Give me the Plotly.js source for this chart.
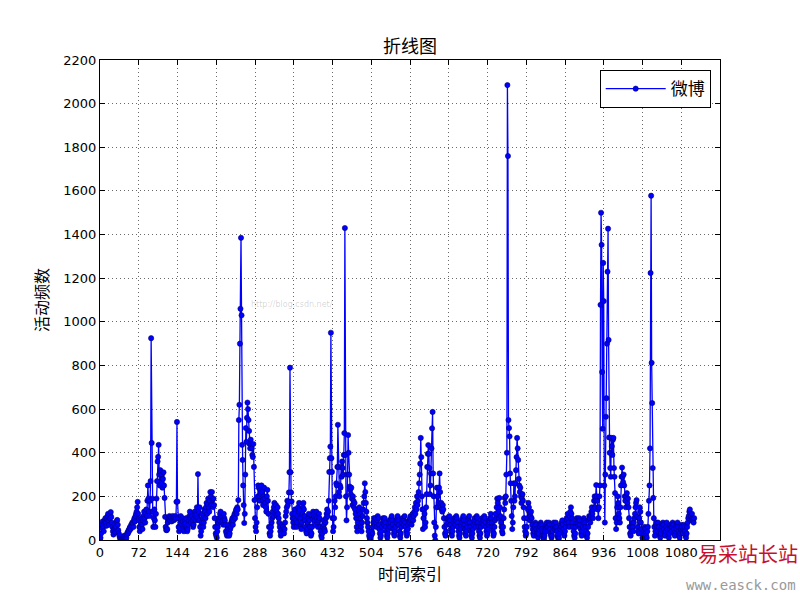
<!DOCTYPE html>
<html>
<head>
<meta charset="utf-8">
<script src="https://cdn.plot.ly/plotly-3.0.1.min.js"></script>
<style>html,body{margin:0;padding:0;background:#fff;}#chart{width:800px;height:600px;}</style>
</head>
<body>
<div id="chart"></div>
<script>
// 微博 activity frequency per time index
const activity = [
0, 10, 30, 55, 70, 85, 60, 40, 75, 90,
100, 80, 65, 95, 110, 120, 90, 70, 100, 115,
128, 105, 80, 60, 40, 25, 50, 70, 55, 35,
60, 85, 92, 70, 45, 30, 20, 10, 5, 0,
0, 5, 3, 0, 10, 20, 15, 5, 0, 10,
25, 35, 30, 45, 40, 55, 60, 50, 70, 65,
80, 75, 60, 90, 100, 85, 110, 120, 130, 150,
175, 120, 90, 60, 40, 55, 80, 100, 70, 50,
90, 110, 130, 100, 80, 120, 140, 110, 180, 250,
190, 130, 110, 180, 270, 925, 445, 190, 130, 60,
100, 140, 90, 60, 120, 190, 270, 360, 381, 436,
300, 250, 320, 310, 260, 300, 240, 280, 310, 250,
193, 106, 60, 46, 45, 50, 80, 100, 95, 110,
90, 105, 100, 85, 95, 110, 100, 90, 105, 95,
110, 100, 175, 541, 176, 100, 60, 40, 55, 80,
110, 90, 70, 100, 85, 60, 40, 70, 90, 75,
100, 60, 40, 50, 70, 90, 110, 130, 100, 80,
120, 110, 90, 60, 70, 100, 130, 110, 90, 120,
150, 100, 302, 130, 90, 150, 60, 20, 40, 80,
120, 100, 60, 80, 140, 130, 100, 150, 170, 120,
160, 190, 150, 130, 180, 220, 200, 160, 220, 185,
150, 190, 160, 100, 60, 30, 20, 10, 40, 60,
80, 100, 90, 120, 130, 100, 80, 110, 90, 70,
120, 100, 90, 70, 40, 30, 20, 50, 70, 40,
20, 30, 50, 60, 80, 90, 100, 70, 90, 110,
120, 100, 130, 140, 120, 150, 140, 183, 550, 620,
900, 1060, 1385, 1030, 436, 367, 250, 160, 78, 120,
300, 513, 450, 560, 630, 600, 550, 500, 440, 420,
460, 440, 420, 390, 380, 440, 335, 183, 100, 60,
40, 80, 150, 200, 250, 240, 200, 180, 230, 210,
250, 220, 180, 160, 200, 240, 190, 170, 150, 130,
200, 230, 180, 120, 60, 30, 20, 40, 60, 80,
100, 130, 110, 150, 170, 140, 120, 160, 130, 110,
150, 120, 100, 80, 60, 40, 20, 30, 50, 70,
60, 40, 30, 50, 80, 110, 130, 150, 180, 160,
177, 218, 311, 790, 311, 218, 177, 120, 100, 80,
60, 100, 140, 120, 90, 60, 80, 110, 150, 130,
170, 140, 100, 70, 50, 80, 120, 150, 170, 140,
110, 90, 60, 40, 30, 50, 80, 100, 120, 90,
60, 40, 20, 30, 60, 100, 130, 110, 120, 90,
70, 110, 130, 100, 80, 60, 90, 120, 100, 60,
40, 20, 10, 30, 60, 90, 70, 50, 40, 80,
100, 120, 140, 110, 130, 180, 312, 375, 428, 950,
375, 312, 100, 40, 60, 100, 180, 150, 200, 260,
250, 335, 528, 335, 220, 200, 250, 240, 335, 290,
360, 330, 300, 390, 490, 1430, 390, 200, 90, 150,
300, 481, 400, 300, 245, 230, 210, 240, 190, 160,
200, 180, 150, 170, 140, 120, 100, 60, 40, 80,
100, 130, 150, 120, 100, 60, 40, 80, 110, 140,
170, 200, 260, 220, 170, 130, 100, 80, 60, 40,
20, 10, 0, 5, 20, 40, 30, 60, 80, 100,
90, 70, 100, 80, 60, 90, 110, 100, 70, 50,
30, 10, 20, 40, 60, 80, 100, 90, 70, 100,
80, 60, 40, 20, 10, 30, 50, 70, 90, 60,
80, 100, 110, 90, 70, 50, 30, 20, 40, 60,
90, 80, 100, 110, 90, 70, 40, 20, 10, 30,
60, 80, 100, 90, 70, 90, 110, 80, 60, 40,
20, 30, 50, 70, 90, 80, 100, 110, 90, 70,
100, 120, 90, 110, 130, 150, 120, 170, 140, 200,
160, 180, 220, 260, 300, 350, 468, 380, 200, 140,
50, 100, 140, 120, 60, 80, 150, 210, 335, 395,
435, 395, 330, 210, 250, 305, 420, 512, 587, 305,
200, 80, 20, 0, 60, 150, 240, 200, 150, 170,
240, 305, 220, 150, 170, 140, 130, 160, 140, 100,
60, 30, 20, 40, 70, 100, 90, 80, 100, 110,
90, 70, 50, 30, 20, 40, 60, 80, 100, 90,
70, 90, 110, 100, 80, 60, 40, 20, 10, 30,
50, 70, 90, 80, 100, 110, 90, 70, 50, 30,
20, 40, 60, 80, 100, 90, 110, 80, 60, 40,
20, 10, 30, 50, 70, 90, 100, 80, 60, 90,
110, 100, 80, 60, 40, 20, 10, 30, 60, 80,
100, 90, 70, 90, 110, 100, 80, 60, 40, 20,
30, 50, 70, 90, 80, 100, 120, 100, 80, 60,
40, 20, 30, 60, 90, 120, 100, 150, 190, 170,
130, 100, 193, 150, 110, 80, 60, 40, 30, 60,
100, 140, 193, 170, 200, 300, 400, 2085, 1760, 550,
513, 475, 305, 260, 180, 110, 50, 80, 150, 260,
180, 200, 260, 320, 380, 468, 420, 367, 280, 250,
220, 240, 200, 170, 190, 210, 180, 150, 100, 60,
40, 20, 30, 60, 100, 140, 170, 150, 120, 90,
110, 130, 100, 70, 50, 30, 20, 40, 60, 80,
70, 50, 30, 20, 10, 30, 50, 70, 60, 80,
70, 50, 40, 20, 10, 5, 20, 40, 60, 70,
80, 60, 40, 60, 80, 70, 50, 30, 20, 10,
20, 40, 60, 80, 70, 50, 60, 80, 60, 40,
20, 10, 0, 10, 30, 50, 70, 60, 80, 90,
70, 50, 30, 20, 40, 60, 80, 100, 90, 120,
100, 80, 60, 110, 130, 150, 120, 100, 80, 60,
40, 20, 10, 30, 60, 80, 100, 90, 70, 80,
100, 90, 70, 50, 30, 20, 40, 60, 80, 100,
90, 80, 60, 40, 20, 10, 30, 60, 90, 110,
100, 80, 110, 130, 150, 120, 100, 140, 180, 200,
150, 183, 252, 200, 180, 140, 100, 150, 200, 250,
1078, 1500, 1353, 770, 510, 1270, 1095, 250, 80, 300,
565, 650, 900, 1230, 1427, 917, 470, 400, 330, 290,
468, 430, 390, 460, 468, 330, 290, 215, 100, 50,
80, 150, 200, 170, 120, 100, 80, 150, 250, 290,
332, 290, 265, 300, 250, 200, 180, 150, 200, 215,
170, 190, 150, 100, 60, 30, 20, 40, 60, 80,
60, 40, 80, 100, 120, 150, 170, 183, 107, 60,
40, 30, 100, 150, 130, 80, 50, 30, 10, 0,
20, 40, 60, 50, 30, 20, 10, 40, 60, 120,
180, 250, 420, 1224, 1578, 812, 628, 330, 193, 100,
60, 20, 40, 70, 80, 60, 40, 80, 60, 30,
20, 10, 30, 50, 70, 60, 80, 70, 50, 30,
20, 40, 60, 80, 50, 30, 20, 10, 30, 50,
70, 60, 40, 60, 80, 70, 50, 30, 20, 40,
60, 50, 70, 80, 60, 40, 20, 10, 30, 50,
70, 60, 40, 30, 50, 70, 60, 40, 20, 10,
30, 60, 80, 100, 110, 130, 140, 120, 110, 90,
120, 100, 90, 80, 100
];
const timeIndex = activity.map((_, i) => i);
const xTickVals = [0, 72, 144, 216, 288, 360, 432, 504, 576, 648, 720, 792, 864, 936, 1008, 1080];
const xTickText = ["0", "72", "144", "216", "288", "360", "432", "504", "576", "648", "720", "792", "864", "936", "1008", "1080"];
const yTickVals = [0, 200, 400, 600, 800, 1000, 1200, 1400, 1600, 1800, 2000, 2200];
const seriesName = "微博";
const chartTitle = "折线图";
const xLabel = "时间索引";
const yLabel = "活动频数";

const cjk = '"Noto Sans CJK SC", "DejaVu Sans", sans-serif';
const num = '"DejaVu Sans", sans-serif';

const trace = {
  x: timeIndex,
  y: activity,
  type: 'scatter',
  mode: 'lines+markers',
  name: seriesName,
  line: {color: '#0000ff', width: 1.3},
  marker: {color: '#0000ff', size: 5.2, line: {color: '#00007a', width: 0.6}}
};

const axisCommon = {
  showline: true, linecolor: '#000', linewidth: 1, mirror: 'ticks',
  ticks: 'inside', ticklen: 5, tickcolor: '#000', tickwidth: 1,
  showgrid: true, gridcolor: '#444', griddash: '1px,3px', gridwidth: 0.8,
  zeroline: false, tickfont: {family: num, size: 13, color: '#000'}
};

const layout = {
  width: 800, height: 600,
  margin: {l: 100, r: 80, t: 60, b: 60},
  paper_bgcolor: '#fff', plot_bgcolor: '#fff',
  title: {text: chartTitle, font: {family: cjk, size: 18, color: '#000'}, x: 0.5125, xanchor: 'center', y: 0.923, yanchor: 'middle'},
  xaxis: Object.assign({}, axisCommon, {
    range: [0, 1152], tickmode: 'array', tickvals: xTickVals, ticktext: xTickText,
    title: {text: xLabel, font: {family: cjk, size: 16, color: '#000'}, standoff: 10}
  }),
  yaxis: Object.assign({}, axisCommon, {
    range: [0, 2200], tickmode: 'array', tickvals: yTickVals,
    title: {text: yLabel, font: {family: cjk, size: 16, color: '#000'}, standoff: 10}
  }),
  showlegend: true,
  legend: {
    x: 0.985, xanchor: 'right', y: 0.979, yanchor: 'top',
    bgcolor: '#fff', bordercolor: '#000', borderwidth: 1,
    font: {family: cjk, size: 17, color: '#000'}, itemwidth: 60
  },
  annotations: [
    {xref: 'paper', yref: 'paper', x: 1.045, y: -0.028, text: '易采站长站', showarrow: false,
     font: {family: cjk, size: 20, color: '#c8102e'}, xanchor: 'center', yanchor: 'middle'},
    {xref: 'paper', yref: 'paper', x: 1.034, y: -0.094, text: 'www.easck.com', showarrow: false,
     font: {family: '"DejaVu Sans Mono", monospace', size: 14, color: '#999'}, xanchor: 'center', yanchor: 'middle'},
    {xref: 'paper', yref: 'paper', x: 0.31, y: 0.49, text: 'http://blog.csdn.net/', showarrow: false,
     font: {family: num, size: 8, color: 'rgba(0,0,0,0.18)'}, xanchor: 'center', yanchor: 'middle'}
  ]
};

Plotly.newPlot('chart', [trace], layout, {displayModeBar: false, staticPlot: true});
</script>
</body>
</html>
